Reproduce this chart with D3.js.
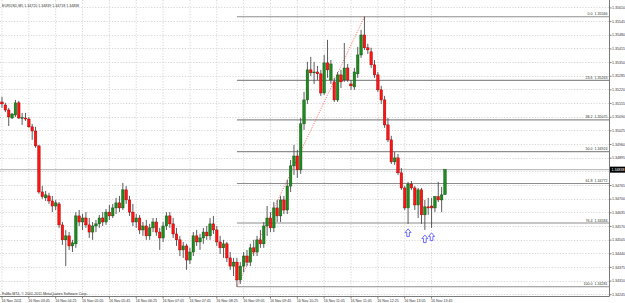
<!DOCTYPE html>
<html><head><meta charset="utf-8">
<script src="https://cdnjs.cloudflare.com/ajax/libs/d3/7.8.5/d3.min.js"></script>
<style>html,body{margin:0;padding:0;background:#fff;overflow:hidden}svg{display:block}</style>
</head><body><svg id="c" width="625" height="303"></svg>
<script>
const symbol = "EURUSD,M5";
const startTime = new Date(2011, 10, 16, 3, 5);
const opens = [1.35160,1.35146,1.35122,1.35084,1.35098,1.35156,1.35084,1.35084,1.35079,1.35042,
1.35022,1.34951,1.34732,1.34704,1.34713,1.34689,1.34665,1.34675,1.34575,1.34504,
1.34523,1.34475,1.34485,1.34618,1.34589,1.34608,1.34575,1.34541,1.34570,1.34580,
1.34608,1.34589,1.34636,1.34618,1.34656,1.34680,1.34656,1.34742,1.34694,1.34636,
1.34589,1.34608,1.34551,1.34570,1.34523,1.34561,1.34589,1.34541,1.34513,1.34570,
1.34618,1.34580,1.34532,1.34504,1.34456,1.34475,1.34408,1.34446,1.34523,1.34494,
1.34513,1.34541,1.34523,1.34580,1.34551,1.34494,1.34466,1.34485,1.34418,1.34379,
1.34398,1.34313,1.34379,1.34427,1.34398,1.34466,1.34446,1.34504,1.34485,1.34570,
1.34608,1.34561,1.34656,1.34618,1.34694,1.34646,1.34760,1.34856,1.34903,1.34837,
1.35056,1.35170,1.35313,1.35299,1.35303,1.35294,1.35203,1.35346,1.35265,1.35256,
1.35170,1.35289,1.35265,1.35322,1.35246,1.35232,1.35294,1.35384,1.35479,1.35418,
1.35399,1.35337,1.35289,1.35218,1.35170,1.35051,1.34980,1.34875,1.34894,1.34823,
1.34751,1.34656,1.34770,1.34751,1.34670,1.34742,1.34623,1.34661,1.34665,1.34656,
1.34709,1.34694,1.34720];
const highs = [1.35185,1.35156,1.35132,1.35108,1.35170,1.35165,1.35108,1.35108,1.35089,1.35056,
1.35042,1.34956,1.34760,1.34737,1.34728,1.34713,1.34694,1.34684,1.34589,1.34551,
1.34541,1.34504,1.34636,1.34646,1.34627,1.34636,1.34608,1.34589,1.34599,1.34622,
1.34636,1.34651,1.34670,1.34675,1.34704,1.34713,1.34775,1.34760,1.34713,1.34675,
1.34627,1.34622,1.34589,1.34599,1.34580,1.34608,1.34608,1.34561,1.34589,1.34636,
1.34636,1.34608,1.34561,1.34523,1.34494,1.34485,1.34466,1.34541,1.34551,1.34532,
1.34561,1.34570,1.34608,1.34618,1.34570,1.34523,1.34504,1.34494,1.34446,1.34418,
1.34418,1.34398,1.34446,1.34456,1.34485,1.34504,1.34523,1.34551,1.34589,1.34665,
1.34636,1.34684,1.34694,1.34713,1.34713,1.34789,1.34884,1.34956,1.34932,1.35084,
1.35208,1.35351,1.35375,1.35351,1.35332,1.35313,1.35384,1.35456,1.35360,1.35275,
1.35303,1.35313,1.35441,1.35341,1.35265,1.35322,1.35422,1.35503,1.35566,1.35437,
1.35418,1.35360,1.35303,1.35237,1.35189,1.35084,1.34999,1.34922,1.34913,1.34846,
1.34760,1.34780,1.34784,1.34760,1.34751,1.34751,1.34694,1.34704,1.34704,1.34713,
1.34780,1.34756,1.34839];
const lows = [1.35132,1.35112,1.35046,1.35079,1.35089,1.35079,1.35051,1.35070,1.35037,1.34980,
1.34942,1.34723,1.34699,1.34689,1.34675,1.34636,1.34646,1.34561,1.34480,1.34379,
1.34456,1.34446,1.34466,1.34570,1.34551,1.34561,1.34513,1.34504,1.34541,1.34561,
1.34570,1.34575,1.34599,1.34608,1.34627,1.34636,1.34646,1.34675,1.34618,1.34570,
1.34561,1.34532,1.34523,1.34504,1.34504,1.34541,1.34523,1.34456,1.34494,1.34551,
1.34561,1.34513,1.34475,1.34427,1.34418,1.34361,1.34389,1.34427,1.34475,1.34456,
1.34485,1.34504,1.34504,1.34532,1.34475,1.34437,1.34418,1.34398,1.34361,1.34332,
1.34281,1.34294,1.34351,1.34379,1.34379,1.34427,1.34427,1.34466,1.34466,1.34523,
1.34541,1.34541,1.34589,1.34589,1.34627,1.34627,1.34732,1.34813,1.34799,1.34818,
1.35027,1.35151,1.35284,1.35246,1.35265,1.35189,1.35194,1.35275,1.35246,1.35160,
1.35160,1.35227,1.35256,1.35256,1.35218,1.35218,1.35275,1.35370,1.35408,1.35389,
1.35322,1.35275,1.35208,1.35151,1.35037,1.34970,1.34865,1.34861,1.34813,1.34742,
1.34646,1.34580,1.34742,1.34646,1.34608,1.34580,1.34551,1.34623,1.34561,1.34636,
1.34684,1.34636,1.34718];
const closes = [1.35151,1.35122,1.35089,1.35103,1.35156,1.35084,1.35086,1.35079,1.35042,1.35022,
1.34951,1.34732,1.34709,1.34718,1.34689,1.34665,1.34680,1.34575,1.34504,1.34523,
1.34475,1.34490,1.34618,1.34589,1.34608,1.34575,1.34541,1.34570,1.34580,1.34608,
1.34589,1.34636,1.34618,1.34656,1.34680,1.34656,1.34742,1.34694,1.34636,1.34589,
1.34608,1.34551,1.34570,1.34523,1.34561,1.34589,1.34541,1.34513,1.34570,1.34618,
1.34580,1.34532,1.34504,1.34456,1.34475,1.34408,1.34446,1.34523,1.34494,1.34513,
1.34541,1.34523,1.34580,1.34551,1.34494,1.34466,1.34485,1.34418,1.34379,1.34398,
1.34313,1.34379,1.34427,1.34398,1.34466,1.34446,1.34504,1.34485,1.34570,1.34608,
1.34561,1.34656,1.34618,1.34694,1.34646,1.34760,1.34856,1.34903,1.34837,1.35056,
1.35170,1.35313,1.35299,1.35303,1.35294,1.35203,1.35346,1.35313,1.35341,1.35170,
1.35289,1.35256,1.35322,1.35265,1.35237,1.35303,1.35384,1.35479,1.35418,1.35408,
1.35337,1.35289,1.35218,1.35170,1.35051,1.34980,1.34875,1.34894,1.34823,1.34751,
1.34656,1.34770,1.34751,1.34670,1.34742,1.34623,1.34661,1.34656,1.34656,1.34709,
1.34694,1.34718,1.34838];
const timeTickAt = ["03:05","03:45","04:25","05:05","05:45","06:25","07:05","07:45","08:25",
"09:05","09:45","10:25","11:05","11:45","12:25","13:05","13:45"];
const timeTickLabels = ["16 Nov 2011","16 Nov 03:45","16 Nov 04:25","16 Nov 05:05","16 Nov 05:45",
"16 Nov 06:25","16 Nov 07:05","16 Nov 07:45","16 Nov 08:25","16 Nov 09:05","16 Nov 09:45",
"16 Nov 10:25","16 Nov 11:05","16 Nov 11:45","16 Nov 12:25","16 Nov 13:05","16 Nov 13:45"];
const priceTicks = [1.35610,1.35545,1.35480,1.35415,1.35350,1.35285,1.35220,1.35155,1.35090,1.35025,
1.34960,1.34895,1.34830,1.34765,1.34700,1.34635,1.34570,1.34505,1.34440,1.34375,1.34310,1.34245];
const fibLevels = ["0.0","23.6","38.2","50.0","61.8","76.4","100.0"];
const fibPrices = [1.35566,1.35263,1.35075,1.34924,1.34772,1.34584,1.34281];
const fibFromTime = "08:55", fibToTime = "12:05";
const arrowTimes = ["13:10","13:35","13:45"];
const bidPrice = 1.34838;
const copyright = "FoMo MT4, \u00A9 2001-2011 MetaQuotes Software Corp.";

// layout
const W = 625, H = 303, PR = 609.5, PB = 296.5, X0 = 0.32, STEP = 3.356;
const FONT = "'Liberation Sans', Arial, sans-serif", FS = 3.6;
const fmt = d3.format(".5f"), hm = d3.timeFormat("%H:%M");

const keys = opens.map((_, i) => hm(d3.timeMinute.offset(startTime, 5 * i)));
const bars = opens.map((o, i) => ({k: keys[i], o, h: highs[i], l: lows[i], c: closes[i]}));

const x = d3.scaleBand().domain(keys).range([X0, X0 + keys.length * STEP]).paddingInner(0.25).paddingOuter(0.125);
const cx = k => x(k) + x.bandwidth() / 2;
const y = d3.scaleLinear().domain([1.34281, 1.35566]).range([286.7, 16.7]);

const svg = d3.select("#c");
svg.append("rect").attr("width", W).attr("height", H).attr("fill", "#fff");

// grid
const grid = svg.append("g").attr("stroke", "#c4c4c4").attr("stroke-width", 0.7).attr("stroke-dasharray", "1.2,1.6");
grid.selectAll(".hg").data(priceTicks).join("line")
  .attr("x1", 0).attr("x2", PR).attr("y1", d => Math.round(y(d)) + 0.5).attr("y2", d => Math.round(y(d)) + 0.5);
grid.selectAll(".vg").data(timeTickAt).join("line")
  .attr("x1", d => cx(d)).attr("x2", d => cx(d)).attr("y1", 0).attr("y2", PB);

// fib levels
const fx0 = cx(fibFromTime);
svg.append("g").selectAll("line").data(fibPrices).join("line")
  .attr("x1", fx0).attr("x2", PR).attr("y1", d => y(d)).attr("y2", d => y(d))
  .attr("stroke", "#8e8e8e").attr("stroke-width", 1.1);
const ft = svg.append("g").attr("font-family", FONT).attr("font-size", FS).attr("fill", "#333");
ft.selectAll("text.p").data(fibPrices).join("text")
  .attr("x", 607.5).attr("y", d => y(d) - 1.4).attr("text-anchor", "end").text(d => fmt(d));
ft.selectAll("text.l").data(fibLevels).join("text")
  .attr("x", 592.5).attr("y", (d, i) => y(fibPrices[i]) - 1.4).attr("text-anchor", "end").text(d => d);

// bid line
svg.append("line").attr("x1", 0).attr("x2", PR).attr("y1", y(bidPrice)).attr("y2", y(bidPrice))
  .attr("stroke", "#a8a8a8").attr("stroke-width", 0.9);

// fib trend line
svg.append("line").attr("x1", fx0).attr("y1", y(fibPrices[6])).attr("x2", cx(fibToTime)).attr("y2", y(fibPrices[0]))
  .attr("stroke", "#ff3b3b").attr("stroke-width", 0.8).attr("stroke-dasharray", "1,1.4");

// candles
const cg = svg.append("g");
cg.selectAll("line").data(bars).join("line")
  .attr("x1", d => cx(d.k)).attr("x2", d => cx(d.k)).attr("y1", d => y(d.h)).attr("y2", d => y(d.l))
  .attr("stroke", "#4a4a4a").attr("stroke-width", 0.9);
cg.selectAll("rect").data(bars).join("rect")
  .attr("x", d => x(d.k)).attr("width", x.bandwidth())
  .attr("y", d => y(Math.max(d.o, d.c)))
  .attr("height", d => Math.max(Math.abs(y(d.o) - y(d.c)), 0.8))
  .attr("fill", d => d.c >= d.o ? "#1f8a1f" : "#ff1414")
  .attr("stroke", d => d.c >= d.o ? "#0d520d" : "#a00000").attr("stroke-width", 0.45);

// arrows
const lowOf = k => bars.find(b => b.k === k).l;
svg.append("g").selectAll("path").data(arrowTimes).join("path")
  .attr("transform", d => `translate(${cx(d)},${y(lowOf(d)) + 5})`)
  .attr("d", "M0,0 L3,3.6 L1.3,3.6 L1.3,7.6 L-1.3,7.6 L-1.3,3.6 L-3,3.6 Z")
  .attr("fill", "#fff").attr("stroke", "#4b4bff").attr("stroke-width", 0.8);

// frame
svg.append("line").attr("x1", PR).attr("x2", PR).attr("y1", 0).attr("y2", PB).attr("stroke", "#7a7a7a").attr("stroke-width", 1);
svg.append("line").attr("x1", 0).attr("x2", PR).attr("y1", PB).attr("y2", PB).attr("stroke", "#7a7a7a").attr("stroke-width", 1);

// price axis (the tick hidden under the bid label is not labelled)
const bidHalf = 3;
const shownTicks = priceTicks.filter(p => Math.abs(y(p) - y(bidPrice)) > bidHalf + 2);
const ya = svg.append("g").attr("transform", `translate(${PR},0)`)
  .call(d3.axisRight(y).tickValues(shownTicks).tickFormat(fmt).tickSize(2).tickPadding(0.5));
ya.select(".domain").remove();
ya.selectAll("line").attr("stroke", "#7a7a7a");
ya.selectAll("text").attr("font-family", FONT).attr("font-size", FS).attr("fill", "#333");

// bid label
svg.append("rect").attr("x", PR + 0.5).attr("y", y(bidPrice) - bidHalf).attr("width", W - PR).attr("height", 2 * bidHalf).attr("fill", "#000");
svg.append("text").attr("x", 611.5).attr("y", y(bidPrice) + 1.3).attr("font-family", FONT).attr("font-size", FS)
  .attr("fill", "#fff").text(fmt(bidPrice));

// time axis
const xa = svg.append("g").attr("transform", `translate(0,${PB})`)
  .call(d3.axisBottom(x).tickValues(timeTickAt).tickFormat((d, i) => timeTickLabels[i]).tickSize(2).tickPadding(0.5));
xa.select(".domain").remove();
xa.selectAll("line").attr("stroke", "#7a7a7a");
xa.selectAll("text").attr("font-family", FONT).attr("font-size", FS).attr("fill", "#333")
  .attr("text-anchor", "start").attr("dx", -0.5);

// header & copyright
const last = bars[bars.length - 1];
svg.append("text").attr("x", 2).attr("y", 6.8).attr("font-family", FONT).attr("font-size", FS).attr("fill", "#333")
  .text(symbol + "  " + [last.o, last.h, last.l, last.c].map(fmt).join(" "));
svg.append("text").attr("x", 2).attr("y", 294.6).attr("font-family", FONT).attr("font-size", FS).attr("fill", "#333")
  .text(copyright);
</script></body></html>
